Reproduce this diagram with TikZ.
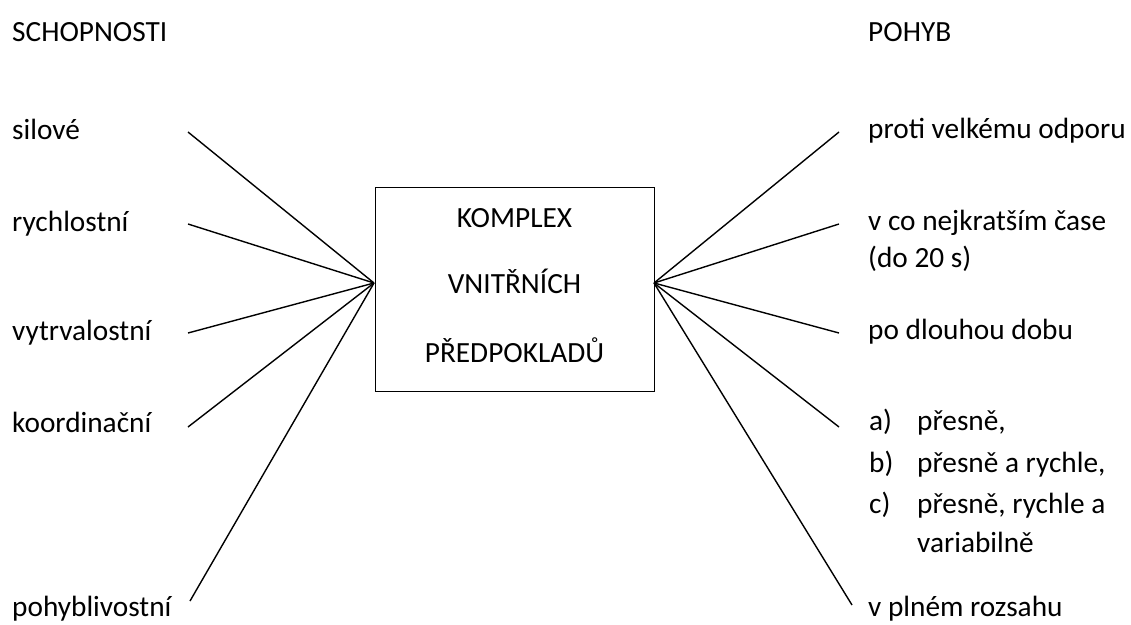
\documentclass[tikz,border=0pt]{standalone}
\usepackage{fontspec}
\setmainfont{Carlito}
\begin{document}
\begin{tikzpicture}[x=1pt,y=-1pt,
  lbl/.style={anchor=base west,inner sep=0pt,font=\fontsize{29.3}{36}\selectfont},
  ctr/.style={anchor=base,inner sep=0pt,font=\fontsize{29.3}{36}\selectfont},
  spoke/.style={line width=1.4pt},
  boxst/.style={draw,line width=1pt,inner sep=0pt,minimum width=279pt,minimum height=204pt}]
\useasboundingbox (0,0) rectangle (1131,624);
% headers
\node[lbl] (schop) at (12,41) {SCHOPNOSTI};
\node[lbl] (pohyb) at (868,41) {POHYB};
% central box
\node[boxst] (box) at (514.5,289) {};
\node[ctr] (t1) at (514.5,227) {KOMPLEX};
\node[ctr] (t2) at (514.5,293) {VNITŘNÍCH};
\node[ctr] (t3) at (514.5,362) {PŘEDPOKLADŮ};
\coordinate (hubL) at (374,283);
\coordinate (hubR) at (654,283);
% left labels
\node[lbl] (sil) at (12,139) {silové};
\node[lbl] (rych) at (12,231) {rychlostní};
\node[lbl] (vytr) at (12,340) {vytrvalostní};
\node[lbl] (koor) at (12,432) {koordinační};
\node[lbl] (pohy) at (12,616) {pohyblivostní};
\coordinate (eSil) at (188,132);
\coordinate (eRych) at (188,224);
\coordinate (eVytr) at (188,333);
\coordinate (eKoor) at (188,427);
\coordinate (ePohy) at (190,601);
% right labels
\node[lbl] (proti) at (868,138) {proti velkému odporu};
\node[lbl] (vco) at (868,230) {v co nejkratším čase};
\node[lbl] (do20) at (868,267) {(do 20 s)};
\node[lbl] (podl) at (868,339) {po dlouhou dobu};
\node[lbl] (la) at (869,430) {a)};
\node[lbl] (ta) at (917,430) {přesně,};
\node[lbl] (lb) at (869,472) {b)};
\node[lbl] (tb) at (917,472) {přesně a rychle,};
\node[lbl] (lc) at (869,513) {c)};
\node[lbl] (tc) at (917,513) {přesně, rychle a};
\node[lbl] (tv) at (917,552) {variabilně};
\node[lbl] (vpl) at (868,616) {v plném rozsahu};
\coordinate (eProti) at (839,132);
\coordinate (eVco) at (839,224);
\coordinate (ePodl) at (839,333);
\coordinate (eA) at (839,427);
\coordinate (eVpl) at (852,605);
% spokes
\foreach \e in {eSil,eRych,eVytr,eKoor,ePohy}
  \draw[spoke] (\e) -- (hubL);
\foreach \e in {eProti,eVco,ePodl,eA,eVpl}
  \draw[spoke] (hubR) -- (\e);
\end{tikzpicture}
\end{document}
